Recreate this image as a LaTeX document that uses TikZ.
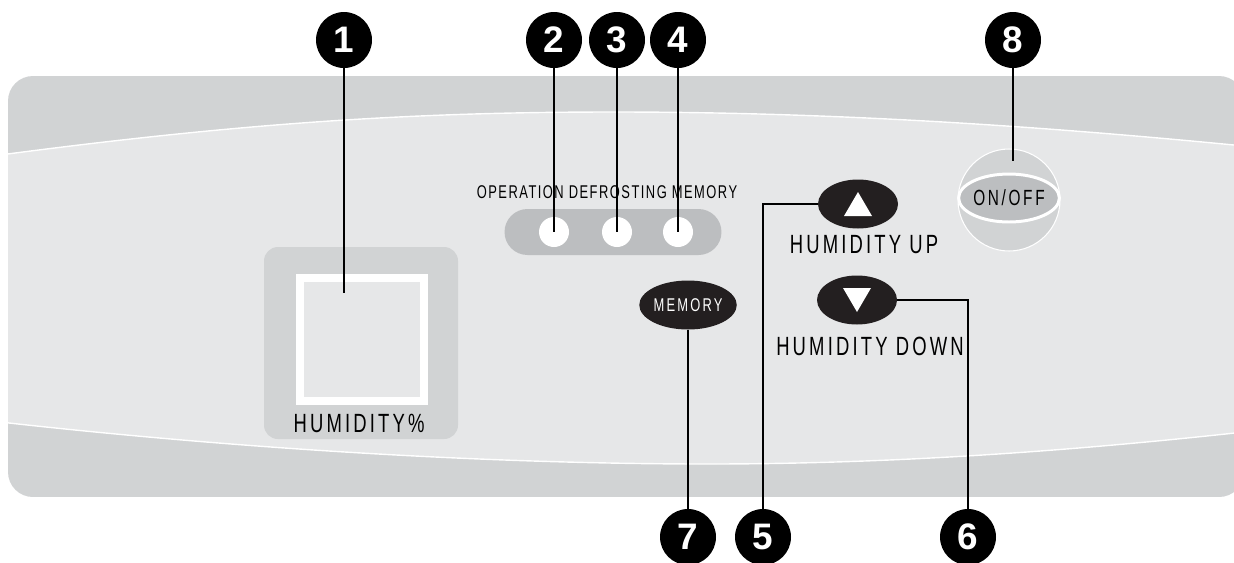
\documentclass[tikz,border=0pt]{standalone}
\usepackage{fontspec}
\setmainfont{Liberation Sans}
\newfontfamily\panelfont[FakeStretch=0.7,LetterSpace=12]{Liberation Sans}
\newfontfamily\lampfont[FakeStretch=0.7,LetterSpace=8]{Liberation Sans}
\usepackage{tikz}
\usetikzlibrary{shapes.geometric,positioning,calc}

\definecolor{paneldark}{RGB}{209,211,212}
\definecolor{panellight}{RGB}{230,231,232}
\definecolor{ledbar}{RGB}{188,190,192}
\definecolor{btndark}{RGB}{35,31,32}

\begin{document}
\begin{tikzpicture}[x=0.02cm, y=-0.02cm,
  num/.style={circle, fill=black, text=white, minimum size=1.12cm, inner sep=0pt,
              font=\bfseries\fontsize{21}{21}\selectfont},
  lead/.style={draw=black, line width=1.1pt},
  led/.style={circle, fill=white, minimum size=0.6cm, inner sep=0pt},
  btn/.style={ellipse, fill=btndark, minimum width=1.6cm, minimum height=0.98cm, inner sep=0pt},
  lbl/.style={font=\panelfont\fontsize{15}{15}\selectfont, text=black, inner sep=0pt},
]
\useasboundingbox (0,0) rectangle (1234,562);

% Panel
\begin{scope}
\clip[rounded corners=0.5cm] (8,76) rectangle (1244,497);
\fill[paneldark] (8,76) rectangle (1244,497);
\fill[panellight] (0,155) .. controls (250,122) and (420,112) .. (614,112)
  .. controls (800,112) and (1000,122) .. (1244,146) -- (1244,432)
  .. controls (1080,450) and (900,464) .. (708,464)
  .. controls (500,464) and (250,450) .. (0,422) -- cycle;
\draw[white, line width=0.8pt] (0,155) .. controls (250,122) and (420,112) .. (614,112)
  .. controls (800,112) and (1000,122) .. (1244,146);
\draw[white, line width=0.8pt] (0,422) .. controls (250,450) and (500,464) .. (708,464)
  .. controls (900,464) and (1080,450) .. (1244,432);
\end{scope}

% Display
\fill[paneldark, rounded corners=0.28cm] (264,247) rectangle (458,439);
\draw[white, fill=panellight, line width=4.5pt] (300,278) rectangle (424,401);
\node[lbl] (humlbl) at (359,423) {HUMIDITY\%};

% Lamps
\node[fill=ledbar, rounded corners=0.46cm, minimum width=4.34cm, minimum height=0.92cm] (bar) at (613,232) {};
\node[led] (led2) at (554,232) {};
\node[led] (led3) at (617,232) {};
\node[led] (led4) at (678,232) {};
\node[lbl, font=\lampfont\fontsize{10.5}{10.5}\selectfont] (ledlbl) at (607,192) {OPERATION DEFROSTING MEMORY};

% Buttons
\node[btn] (btnup) at (858,204) {};
\fill[white] ([shift={(-14,12)}]btnup.center) -- ([shift={(14,12)}]btnup.center) -- ([shift={(0,-12)}]btnup.center) -- cycle;
\node[lbl] (uplbl) at (864,245) {HUMIDITY UP};
\node[btn] (btndown) at (857,300) {};
\fill[white] ([shift={(-14,-12)}]btndown.center) -- ([shift={(14,-12)}]btndown.center) -- ([shift={(0,12)}]btndown.center) -- cycle;
\node[lbl] (downlbl) at (870,346) {HUMIDITY DOWN};
\node[btn, text=white, font=\panelfont\fontsize{10.5}{10.5}\selectfont] (btnmem) at (688,305) {MEMORY};

% Power switch
\node[circle, fill=paneldark, draw=white, line width=0.6pt, minimum size=2.04cm] (onoff) at (1009,200) {};
\node[ellipse, fill=ledbar, draw=white, line width=1.7pt, minimum width=1.8cm, minimum height=0.96cm,
      inner sep=0pt, font=\panelfont\fontsize{12.5}{12.5}\selectfont] (onofflbl) at (1009,198) {ON/OFF};

% Callouts
\node[num] (n1) at (344,40) {1};
\node[num] (n2) at (554,40) {2};
\node[num] (n3) at (617,40) {3};
\node[num] (n4) at (678,40) {4};
\node[num] (n8) at (1013,40) {8};
\node[num] (n7) at (688,537) {7};
\node[num] (n5) at (763,537) {5};
\node[num] (n6) at (968,537) {6};

\coordinate (c1) at (344,293);
\coordinate (c8) at (1013,161);
\draw[lead] (n1) -- (c1);
\draw[lead] (n2) -- (led2.center);
\draw[lead] (n3) -- (led3.center);
\draw[lead] (n4) -- (led4.center);
\draw[lead] (n8) -- (c8);
\draw[lead] (btnmem) -- (n7);
\draw[lead] (btnup.west) -| (n5);
\draw[lead] (btndown.east) -| (n6);
\end{tikzpicture}
\end{document}
